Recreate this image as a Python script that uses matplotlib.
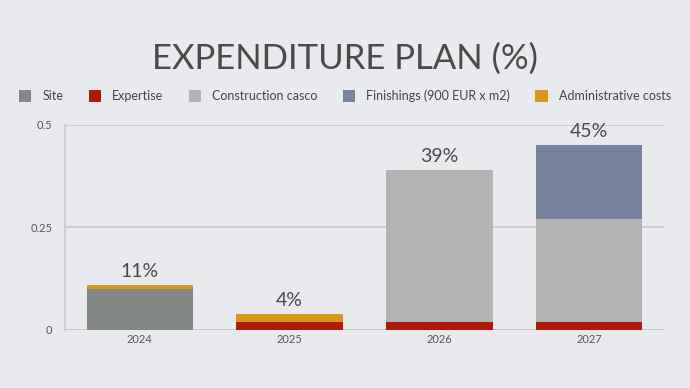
import matplotlib
matplotlib.use("Agg")
import matplotlib.pyplot as plt
import numpy as np
from matplotlib.patches import Patch

years = ["2024", "2025", "2026", "2027"]
series_names = ["Site", "Expertise", "Construction casco", "Finishings (900 EUR x m2)", "Administrative costs"]
site = [0.10, 0.0, 0.0, 0.0]
expertise = [0.0, 0.02, 0.02, 0.02]
casco = [0.0, 0.0, 0.37, 0.25]
finishings = [0.0, 0.0, 0.0, 0.18]
admin = [0.01, 0.02, 0.0, 0.0]
total_labels = ["11%", "4%", "39%", "45%"]
yticks = [0, 0.25, 0.5]
ytick_labels = ["0", "0.25", "0.5"]

colors = ["#838886", "#B01A0B", "#B4B4B4", "#76849F", "#D9961E"]
bg = "#E9EAED"

plt.rcParams['font.family'] = ['Lato', 'DejaVu Sans']

fig = plt.figure(figsize=(6.9, 3.88), dpi=100, facecolor=bg)
ax = fig.add_axes([65/690, 1-330/388, (664-65)/690, (330-124.5)/388])
ax.set_facecolor(bg)

x = np.arange(len(years))
bottom = np.zeros(len(years))
data = [site, expertise, casco, finishings, admin]
for i in range(len(data)):
    vals = np.array(data[i])
    ax.bar(x, vals, bottom=bottom, width=0.71, color=colors[i], zorder=3, linewidth=0)
    bottom += vals

for xi, tot, lab in zip(x, bottom, total_labels):
    ax.text(xi, tot + 0.012, lab, ha='center', va='bottom', fontsize=14,
            color='#4a4a4a', fontweight='normal')

ax.set_xlim(-0.5, len(years) - 0.5)
ax.set_ylim(0, 0.5)
ax.set_yticks(yticks)
ax.set_yticklabels(ytick_labels)
ax.set_xticks(x)
ax.set_xticklabels(years)
ax.tick_params(axis='both', length=0, labelsize=8, colors='#555555')
ax.tick_params(axis='y', pad=9)
ax.tick_params(axis='x', pad=3)
for s in ['top', 'right', 'bottom']:
    ax.spines[s].set_visible(False)
ax.spines['left'].set_color('#C8C8C8')
ax.spines['left'].set_linewidth(1.2)
ax.grid(axis='y', color='#C8C8C8', linewidth=1.2, zorder=0)
ax.axhline(0, color='#C8C8C8', linewidth=1.2, zorder=1)
ax.set_axisbelow(True)

fig.text(0.5, 1-59/388, "EXPENDITURE PLAN (%)", ha='center', va='center',
         fontsize=25, color='#4a4a4a', fontweight='normal')

handles = [Patch(facecolor=c, edgecolor='none') for c in colors]
fig.legend(handles, series_names, loc='center', bbox_to_anchor=(0.5, 1-96/388),
           ncol=5, frameon=False, fontsize=9, handlelength=1.0, handleheight=1.0,
           handletextpad=0.9, columnspacing=2.0, labelcolor='#444444',
           borderpad=0, borderaxespad=0)

fig.savefig("out.png", dpi=100, facecolor=bg)
